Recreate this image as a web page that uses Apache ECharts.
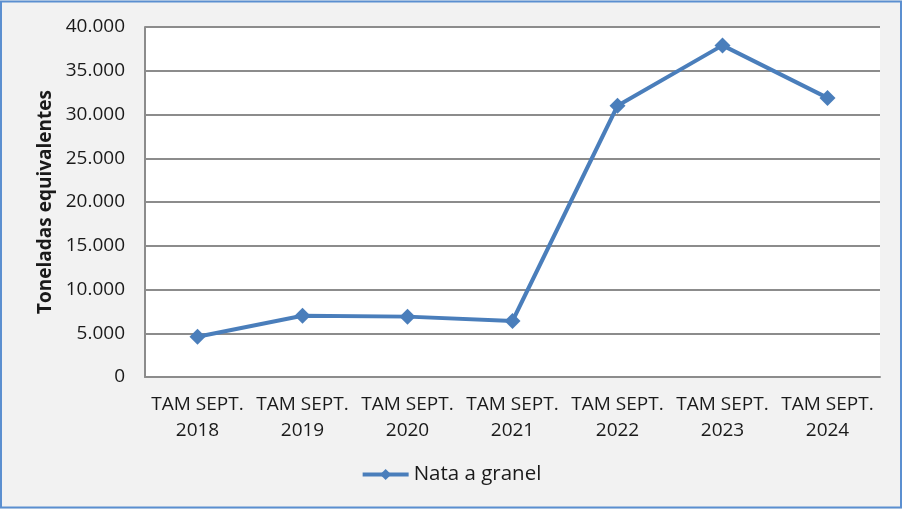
<!DOCTYPE html>
<html>
<head>
<meta charset="utf-8">
<script src="https://cdn.jsdelivr.net/npm/echarts@6/dist/echarts.min.js"></script>
<style>
  html, body { margin: 0; padding: 0; background: #f2f2f2; }
  #chart { width: 902px; height: 509px; }
</style>
</head>
<body>
<div id="chart"></div>
<script>
var categories = ['TAM SEPT.\n2018', 'TAM SEPT.\n2019', 'TAM SEPT.\n2020', 'TAM SEPT.\n2021',
                  'TAM SEPT.\n2022', 'TAM SEPT.\n2023', 'TAM SEPT.\n2024'];
var nataValues = [4600, 7000, 6900, 6400, 31000, 37900, 31900];
var seriesName = 'Nata a granel';
var axisTitle = 'Toneladas equivalentes';

var myChart = echarts.init(document.getElementById('chart'));

function fmt(v) {
    // separador de miles con punto
    return String(v).replace(/\B(?=(\d{3})+(?!\d))/g, '.');
}

var option = {
    backgroundColor: '#f2f2f2',
    animation: false,
    textStyle: { fontFamily: 'Open Sans' },
    graphic: [
        {
            type: 'rect',
            shape: { x: 1, y: 1.5, width: 900, height: 506 },
            style: { fill: 'none', stroke: '#5b8fd0', lineWidth: 2 },
            silent: true
        }
    ],
    grid: {
        left: 145,
        right: 22,
        top: 27,
        bottom: 132,
        show: true,
        backgroundColor: '#ffffff',
        borderWidth: 0
    },
    legend: {
        bottom: 19,
        left: 'center',
        itemWidth: 46,
        itemHeight: 14,
        itemGap: 4,
        lineStyle: { width: 4 },
        textStyle: { color: '#1a1a1a', fontSize: 20.5, fontFamily: 'Open Sans' },
        data: [seriesName]
    },
    xAxis: {
        type: 'category',
        data: categories,
        boundaryGap: true,
        axisLine: { show: true, lineStyle: { color: '#8c8c8c', width: 2 } },
        axisTick: { show: false },
        axisLabel: {
            color: '#1a1a1a',
            fontSize: 19,
            lineHeight: 26,
            margin: 15,
            interval: 0
        }
    },
    yAxis: {
        type: 'value',
        min: 0,
        max: 40000,
        interval: 5000,
        name: axisTitle,
        nameLocation: 'middle',
        nameGap: 90,
        nameTextStyle: { color: '#1a1a1a', fontSize: 19, fontWeight: 'bold', fontFamily: 'Open Sans' },
        axisLine: { show: true, lineStyle: { color: '#8c8c8c', width: 2 } },
        axisTick: { show: false },
        splitLine: { lineStyle: { color: '#8c8c8c', width: 2 } },
        axisLabel: {
            color: '#1a1a1a',
            fontSize: 19,
            margin: 20,
            formatter: function (v) { return fmt(v); }
        }
    },
    series: [
        {
            name: seriesName,
            type: 'line',
            data: nataValues,
            symbol: 'diamond',
            symbolSize: 16,
            lineStyle: { color: '#4a7ebb', width: 4 },
            itemStyle: { color: '#4a7ebb' }
        }
    ]
};

myChart.setOption(option);
</script>
</body>
</html>
